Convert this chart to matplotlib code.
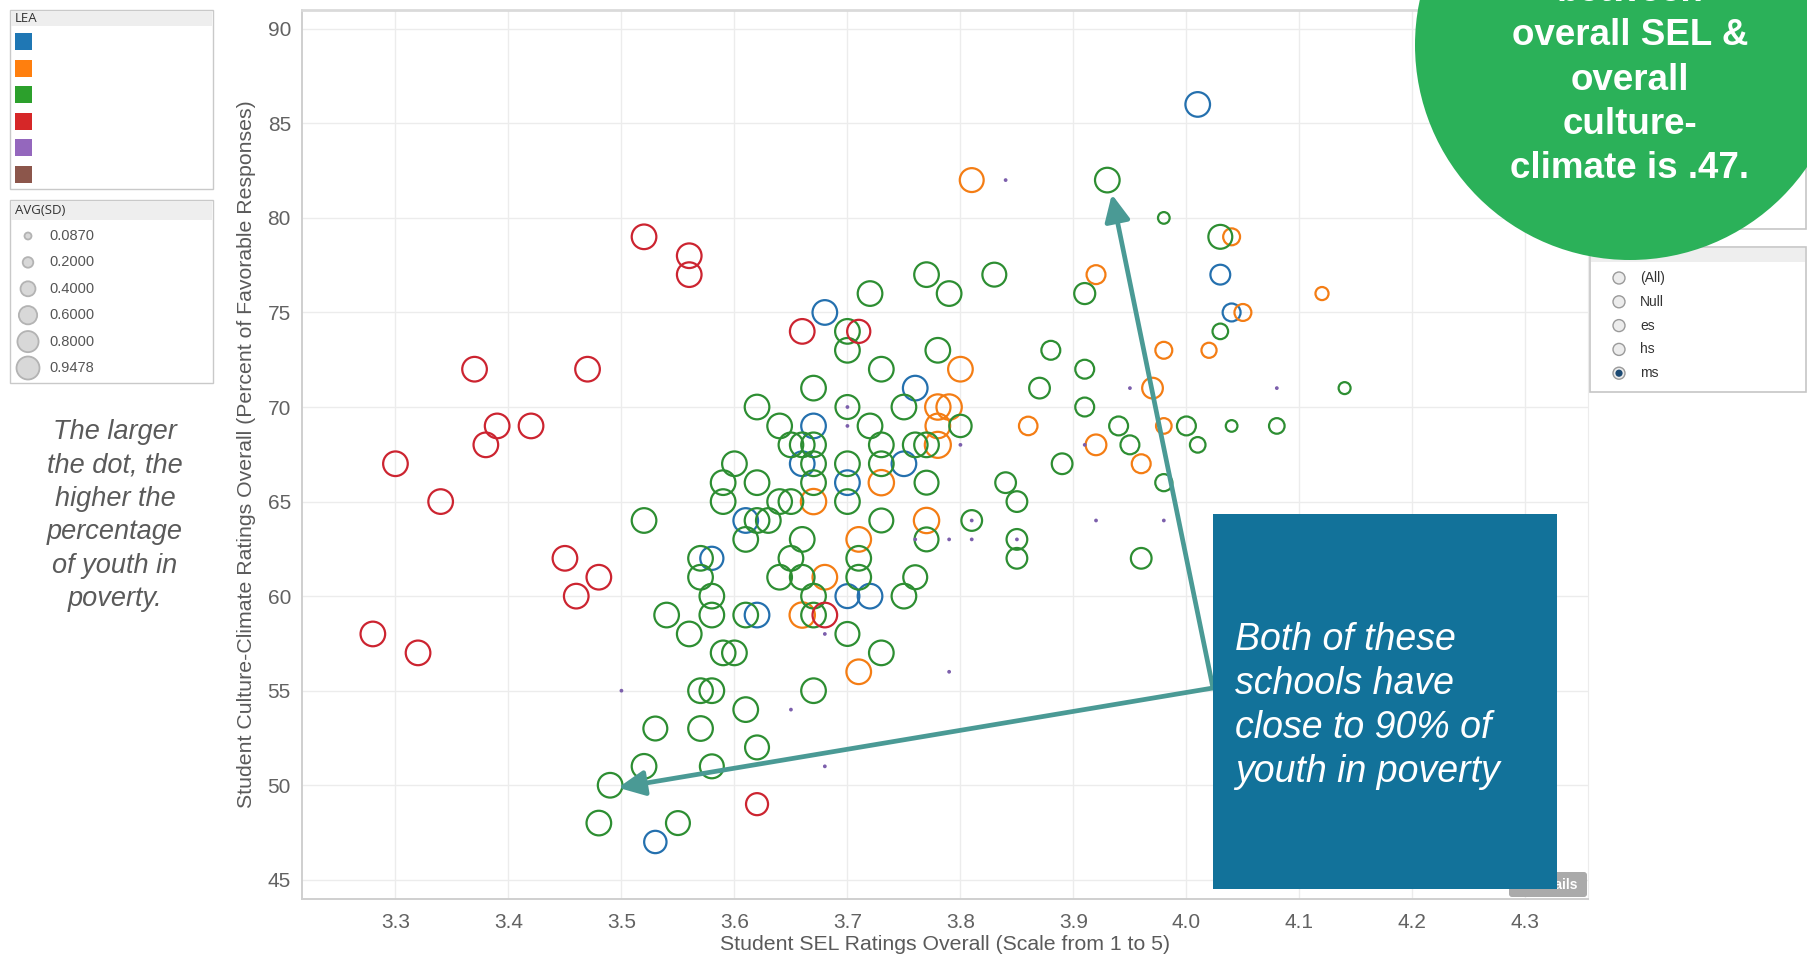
import numpy as np
import matplotlib.pyplot as plt
from matplotlib.patches import Rectangle, Circle, FancyBboxPatch

plt.rcParams['font.family'] = ['Liberation Sans', 'DejaVu Sans']

# x = Student SEL rating, y = culture-climate % favorable, sd = AVG(SD) (dot size)
blue_x = [4.01, 4.03, 4.04, 3.68, 3.76, 3.67, 3.66, 3.75, 3.70, 3.61, 3.58, 3.62, 3.70, 3.72, 3.53]
blue_y = [86, 77, 75, 75, 71, 69, 67, 67, 66, 64, 62, 59, 60, 60, 47]
blue_sd = [.85, .55, .45, .85, .85, .85, .85, .85, .85, .85, .75, .85, .8, .85, .7]

orange_x = [3.81, 3.92, 4.04, 4.12, 4.05, 3.98, 4.02, 3.80, 3.97, 3.78, 3.79, 3.78,
            3.86, 3.98, 3.78, 3.92, 3.96, 3.73, 3.67, 3.77, 3.71, 3.68, 3.66, 3.71]
orange_y = [82, 77, 79, 76, 75, 73, 73, 72, 71, 70, 70, 69, 69, 69, 68, 68, 67, 66, 65, 64, 63, 61, 59, 56]
orange_sd = [.8, .5, .4, .24, .4, .4, .32, .85, .6, .9, .9, .85,
             .48, .34, .95, .6, .5, .9, .9, .9, .85, .85, .9, .85]

green_x = [3.93, 3.98, 4.03, 3.77, 3.83, 3.72, 3.79, 3.91, 3.70, 4.03, 3.70, 3.78, 3.88, 3.73, 3.91,
           3.67, 3.87, 4.14, 3.62, 3.70, 3.75, 3.91, 3.64, 3.72, 3.80, 3.94, 4.00, 4.04, 4.08,
           3.65, 3.66, 3.67, 3.73, 3.76, 3.77, 3.95, 4.01, 3.60, 3.67, 3.70, 3.73, 3.89,
           3.59, 3.62, 3.67, 3.77, 3.84, 3.98, 3.59, 3.64, 3.65, 3.70, 3.85,
           3.52, 3.62, 3.63, 3.73, 3.81, 3.61, 3.66, 3.77, 3.85, 3.57, 3.65, 3.71, 3.85, 3.96,
           3.57, 3.64, 3.66, 3.71, 3.76, 3.58, 3.67, 3.75, 3.54, 3.58, 3.61, 3.67, 3.56, 3.70,
           3.59, 3.60, 3.73, 3.57, 3.58, 3.67, 3.61, 3.53, 3.57, 3.62, 3.52, 3.58, 3.49, 3.48, 3.55]
green_y = [82, 80, 79, 77, 77, 76, 76, 76, 74, 74, 73, 73, 73, 72, 72,
           71, 71, 71, 70, 70, 70, 70, 69, 69, 69, 69, 69, 69, 69,
           68, 68, 68, 68, 68, 68, 68, 68, 67, 67, 67, 67, 67,
           66, 66, 66, 66, 66, 66, 65, 65, 65, 65, 65,
           64, 64, 64, 64, 64, 63, 63, 63, 63, 62, 62, 62, 62, 62,
           61, 61, 61, 61, 61, 60, 60, 60, 59, 59, 59, 59, 58, 58,
           57, 57, 57, 55, 55, 55, 54, 53, 53, 52, 51, 51, 50, 48, 48]
green_sd = [.85, .19, .8, .85, .8, .85, .85, .62, .85, .34, .85, .85, .5, .85, .5,
            .85, .6, .2, .85, .8, .85, .5, .85, .85, .7, .5, .5, .19, .34,
            .85, .85, .85, .85, .85, .85, .5, .34, .85, .85, .85, .85, .6,
            .85, .85, .85, .8, .6, .41, .85, .85, .85, .85, .6,
            .85, .85, .85, .8, .6, .85, .85, .8, .6, .85, .85, .85, .6, .6,
            .85, .85, .85, .85, .8, .85, .85, .85, .85, .85, .85, .85, .85, .8,
            .85, .85, .85, .85, .85, .85, .85, .8, .85, .8, .85, .8, .85, .85, .8]

red_x = [3.52, 3.56, 3.56, 3.37, 3.47, 3.39, 3.42, 3.38, 3.30, 3.34, 3.45, 3.48, 3.46, 3.28, 3.32,
         3.66, 3.71, 3.62, 3.68]
red_y = [79, 78, 77, 72, 72, 69, 69, 68, 67, 65, 62, 61, 60, 58, 57, 74, 74, 49, 59]
red_sd = [.85, .85, .85, .85, .85, .85, .85, .85, .85, .85, .85, .85, .85, .85, .85, .85, .75, .68, .85]

purple_x = [3.84, 3.95, 4.08, 3.70, 3.70, 3.80, 3.91, 3.81, 3.92, 3.98, 3.76, 3.79, 3.81, 3.85,
            3.68, 3.79, 3.50, 3.65, 3.68]
purple_y = [82, 71, 71, 70, 69, 68, 68, 64, 64, 64, 63, 63, 63, 63, 58, 56, 55, 54, 51]
purple_sd = [.02] * len(purple_x)

lea_colors = ['#1f77b4', '#ff7f0e', '#2ca02c', '#d62728', '#9467bd', '#8c564b']
ring_colors = ['#2470ae', '#f47d14', '#2d8e32', '#cc2430', '#7c5fac']
sd_levels = [0.0870, 0.2000, 0.4000, 0.6000, 0.8000, 0.9478]
filter_options = ['(All)', 'Null', 'es', 'hs', 'ms']
selected_option = 'ms'
x_ticks = [3.3, 3.4, 3.5, 3.6, 3.7, 3.8, 3.9, 4.0, 4.1, 4.2, 4.3]
y_ticks = [45, 50, 55, 60, 65, 70, 75, 80, 85, 90]

W, H = 1808, 961
fig = plt.figure(figsize=(W / 100, H / 100), dpi=100)
ax = fig.add_axes([302 / W, 1 - 899 / H, (1588 - 302) / W, (899 - 10) / H])


def dot_px(sd, full=26.0):
    return full * np.sqrt(np.asarray(sd) / 0.9478)


groups = [(blue_x, blue_y, blue_sd), (orange_x, orange_y, orange_sd),
          (green_x, green_y, green_sd), (red_x, red_y, red_sd)]
for (gx, gy, gs), c in zip(groups, ring_colors):
    ax.scatter(gx, gy, s=(dot_px(gs) * 0.72) ** 2, facecolors='none',
               edgecolors=c, linewidths=1.6, zorder=3)
ax.scatter(purple_x, purple_y, s=(dot_px(purple_sd) * 0.72) ** 2,
           color=ring_colors[4], linewidths=0, zorder=3)

ax.set_xlim(3.2173, 4.3554)
ax.set_ylim(43.985, 90.994)
ax.set_xticks(x_ticks)
ax.set_xticklabels(['%.1f' % v for v in x_ticks])
ax.set_yticks(y_ticks)
ax.grid(True, color='#ececec', lw=1.0, zorder=0)
ax.set_axisbelow(True)
ax.tick_params(length=0, labelsize=15, labelcolor='#626262')
ax.tick_params(axis='x', pad=10)
ax.tick_params(axis='y', pad=8)
for side in ['left', 'bottom']:
    ax.spines[side].set_color('#cfcfcf')
    ax.spines[side].set_linewidth(1.4)
ax.spines['top'].set_color('#dadada')
ax.spines['top'].set_linewidth(2)
ax.spines['right'].set_color('#ececec')
ax.set_xlabel('Student SEL Ratings Overall (Scale from 1 to 5)', fontsize=15.3, color='#5a5a5a')
ax.set_ylabel('Student Culture-Climate Ratings Overall (Percent of Favorable Responses)',
              fontsize=15.3, color='#5a5a5a')
ax.xaxis.set_label_coords(0.5, -0.041)
ax.yaxis.set_label_coords(-0.036, 0.5)

# overlay in figure pixels (y down) for panels and call-outs
ov = fig.add_axes([0, 0, 1, 1])
ov.set_xlim(0, W)
ov.set_ylim(H, 0)
ov.axis('off')
ov.patch.set_visible(False)

# LEA colour legend (names blanked out in the source)
ov.add_patch(Rectangle((10, 10), 203, 179, fc='white', ec='#c9c9c9', lw=1))
ov.add_patch(Rectangle((11, 11), 201, 15, fc='#eeeeee', ec='none'))
ov.text(15, 18.5, 'LEA', fontsize=9.5, color='#333333', va='center', family='Open Sans')
for i, c in enumerate(lea_colors):
    yc = 41.5 + i * 26.5
    ov.add_patch(Rectangle((15, yc - 8.5), 17, 17, fc=c, ec='none'))

# AVG(SD) size legend
ov.add_patch(Rectangle((10, 200), 203, 183, fc='white', ec='#c9c9c9', lw=1))
ov.add_patch(Rectangle((11, 201), 201, 19, fc='#eeeeee', ec='none'))
ov.text(15, 210.5, 'AVG(SD)', fontsize=9.5, color='#333333', va='center', family='Open Sans')
for i, v in enumerate(sd_levels):
    yc = 236 + i * 26.4
    ov.add_patch(Circle((28, yc), dot_px(v, 23) / 2, fc='#d8d8d8', ec='#b3b3b3', lw=1.3))
    ov.text(49, yc, '%.4f' % v, fontsize=10.5, color='#555555', va='center')

# left note
note = ['The larger', 'the dot, the', 'higher the', 'percentage', 'of youth in', 'poverty.']
for i, line in enumerate(note):
    ov.text(115, 439 + i * 33.4, line, fontsize=19.5, style='italic', color='#5a5a5a',
            ha='center', va='baseline')

# right-hand panels (mostly hidden behind the green bubble)
ov.add_patch(Rectangle((1590, -5), 216, 234, fc='white', ec='#c6c6c6', lw=1.2, zorder=1))
ov.add_patch(Rectangle((1590, 247), 216, 145, fc='white', ec='#c6c6c6', lw=1.2, zorder=1))
ov.add_patch(Rectangle((1591, 248), 214, 14, fc='#eeeeee', ec='none', zorder=1))
for i, opt in enumerate(filter_options):
    yc = 278 + i * 23.8
    ov.add_patch(Circle((1619, yc), 6, fc='#ececec', ec='#9a9a9a', lw=1, zorder=1))
    if opt == selected_option:
        ov.add_patch(Circle((1619, yc), 3.6, fc='#1c4a73', ec='none', zorder=1))
    ov.text(1640, yc, opt, fontsize=10, color='#333333', va='center', zorder=1)

# green call-out bubble
ov.add_patch(Circle((1630, 45), 215, fc='#2bb159', ec='none', zorder=2))
bubble = ['between', 'overall SEL &', 'overall', 'culture-', 'climate is .47.']
for i, line in enumerate(bubble):
    ov.text(1630, 178 - (len(bubble) - 1 - i) * 44.2, line, fontsize=26.5, weight='bold',
            color='white', ha='center', va='baseline', zorder=3)

# arrows from the text box to the two highlighted schools
arrow_c = '#4a9a95'
for tip in [(3.934, 81.25), (3.497, 49.87)]:
    ov.annotate('', xy=tip, xycoords=ax.transData, xytext=(1213, 688), textcoords='data',
                arrowprops=dict(arrowstyle='-|>,head_length=0.8,head_width=0.38', color=arrow_c,
                                lw=3.4, shrinkA=0, shrinkB=0, mutation_scale=20), zorder=1.5)

# details button peeking out behind the box
ov.add_patch(FancyBboxPatch((1509, 872), 78, 25, boxstyle='round,pad=0,rounding_size=3',
                            fc='#aaaaaa', ec='none', zorder=1))
ov.text(1578, 885, 'Details', fontsize=10, weight='bold', color='white', ha='right',
        va='center', zorder=1.2)

ov.add_patch(Rectangle((1213, 514), 344, 375, fc='#12729a', ec='none', zorder=2))
box_lines = ['Both of these', 'schools have', 'close to 90% of', 'youth in poverty']
for i, line in enumerate(box_lines):
    ov.text(1235, 650 + i * 44, line, fontsize=27, style='italic', color='white',
            ha='left', va='baseline', zorder=3)

fig.savefig('out.png', dpi=100)
